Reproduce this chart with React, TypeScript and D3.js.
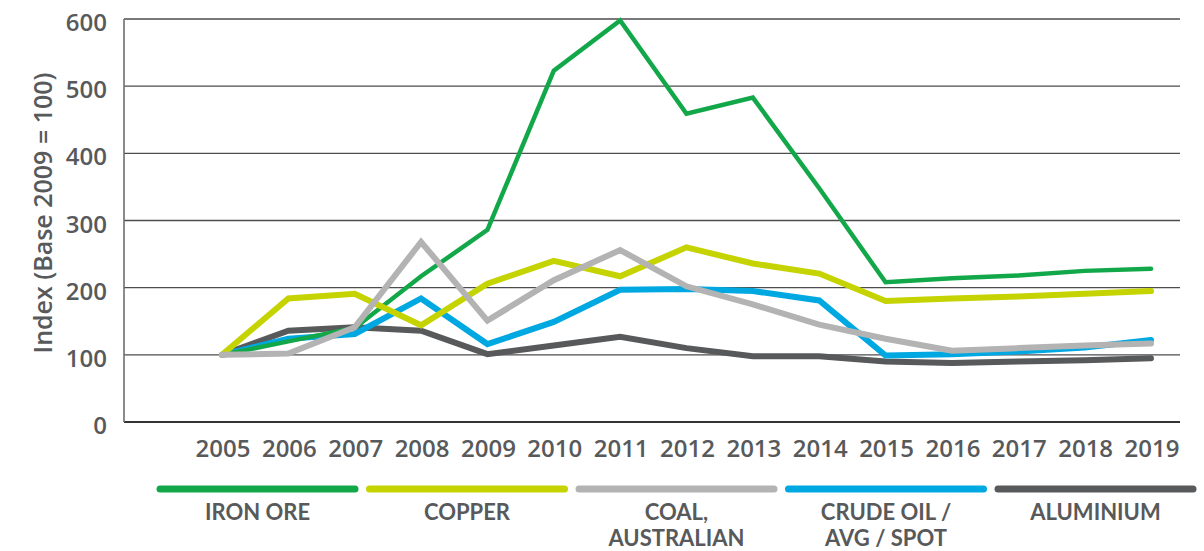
import React from "react";
import * as d3 from "d3";

const years = [2005, 2006, 2007, 2008, 2009, 2010, 2011, 2012, 2013, 2014, 2015, 2016, 2017, 2018, 2019];
const yTicks = [0, 100, 200, 300, 400, 500, 600];

const ironOre = [100, 120, 140, 217, 286, 523, 598, 459, 483, 348, 208, 214, 218, 225, 228];
const copper = [100, 184, 191, 144, 206, 240, 217, 260, 236, 221, 180, 184, 187, 191, 195];
const coal = [100, 102, 141, 268, 151, 211, 256, 202, 175, 145, 124, 106, 110, 114, 117];
const crudeOil = [100, 124, 131, 184, 116, 149, 197, 198, 195, 181, 99, 101, 105, 111, 122];
const aluminium = [100, 136, 141, 136, 101, 114, 127, 110, 98, 98, 90, 88, 90, 92, 95];

const seriesNames = ["IRON ORE", "COPPER", "COAL, AUSTRALIAN", "CRUDE OIL / AVG / SPOT", "ALUMINIUM"];
const legendLines = [["IRON ORE"], ["COPPER"], ["COAL,", "AUSTRALIAN"], ["CRUDE OIL /", "AVG / SPOT"], ["ALUMINIUM"]];
const seriesValues = [ironOre, copper, coal, crudeOil, aluminium];
const colors = ["#12a84a", "#c5d300", "#b3b3b3", "#00a8e1", "#58595b"];
const widths = [4.5, 6, 6, 6, 6];
const drawOrder = [4, 3, 0, 1, 2];

const TEXT = "#58595b";
const FONT = "'Open Sans', sans-serif";

export default function App() {
  const W = 1204, H = 551;
  const left = 124, right = 1180, top = 19, bottom = 422;
  const x = d3.scalePoint<number>().domain(years).range([222, 1151]);
  const y = d3.scaleLinear().domain([0, 600]).range([bottom, top]);
  const line = d3.line<number>().x((_, i) => x(years[i])!).y((d) => y(d)).curve(d3.curveLinear);

  const legendX0 = 160, legendW = 195, legendStep = 209.5;

  return (
    <svg width={W} height={H} style={{ position: "absolute", left: 0, top: 0, background: "#fff" }}>
      {yTicks.filter((t) => t > 0).map((t) => (
        <line key={t} x1={left} x2={right} y1={y(t)} y2={y(t)} stroke="#4d4d4f" strokeWidth={1.4} />
      ))}
      <line x1={left} x2={right} y1={bottom} y2={bottom} stroke="#333" strokeWidth={2.2} />
      <line x1={left} x2={left} y1={top} y2={bottom} stroke="#6d6e70" strokeWidth={1.6} />
      {yTicks.map((t) => (
        <text key={t} x={107} y={y(t) + 12} textAnchor="end" fontFamily={FONT} fontWeight={600} fontSize={24} fill={TEXT}>
          {t}
        </text>
      ))}
      <text transform={`translate(52,${213}) rotate(-90)`} textAnchor="middle" fontFamily={FONT} fontWeight={600} fontSize={25} fill={TEXT}>
        Index (Base 2009 = 100)
      </text>
      {years.map((yr) => (
        <text key={yr} x={x(yr)! + 1} y={457} textAnchor="middle" fontFamily={FONT} fontWeight={600} fontSize={24} fill={TEXT}>
          {yr}
        </text>
      ))}
      {drawOrder.map((i) => (
        <path key={seriesNames[i]} d={line(seriesValues[i]) || ""} fill="none" stroke={colors[i]} strokeWidth={widths[i]} strokeLinejoin="miter" strokeLinecap="round" />
      ))}
      {seriesNames.map((name, i) => {
        const x0 = legendX0 + i * legendStep;
        const cx = x0 + legendW / 2;
        return (
          <g key={name}>
            <line x1={x0} x2={x0 + legendW} y1={489} y2={489} stroke={colors[i]} strokeWidth={7} strokeLinecap="round" />
            <text x={cx} y={519.5} textAnchor="middle" fontFamily="Lato, sans-serif" fontWeight={700} fontSize={22} fill={TEXT}>
              {legendLines[i].map((ln, j) => (
                <tspan key={j} x={cx} dy={j === 0 ? 0 : 26.5}>
                  {ln}
                </tspan>
              ))}
            </text>
          </g>
        );
      })}
    </svg>
  );
}
